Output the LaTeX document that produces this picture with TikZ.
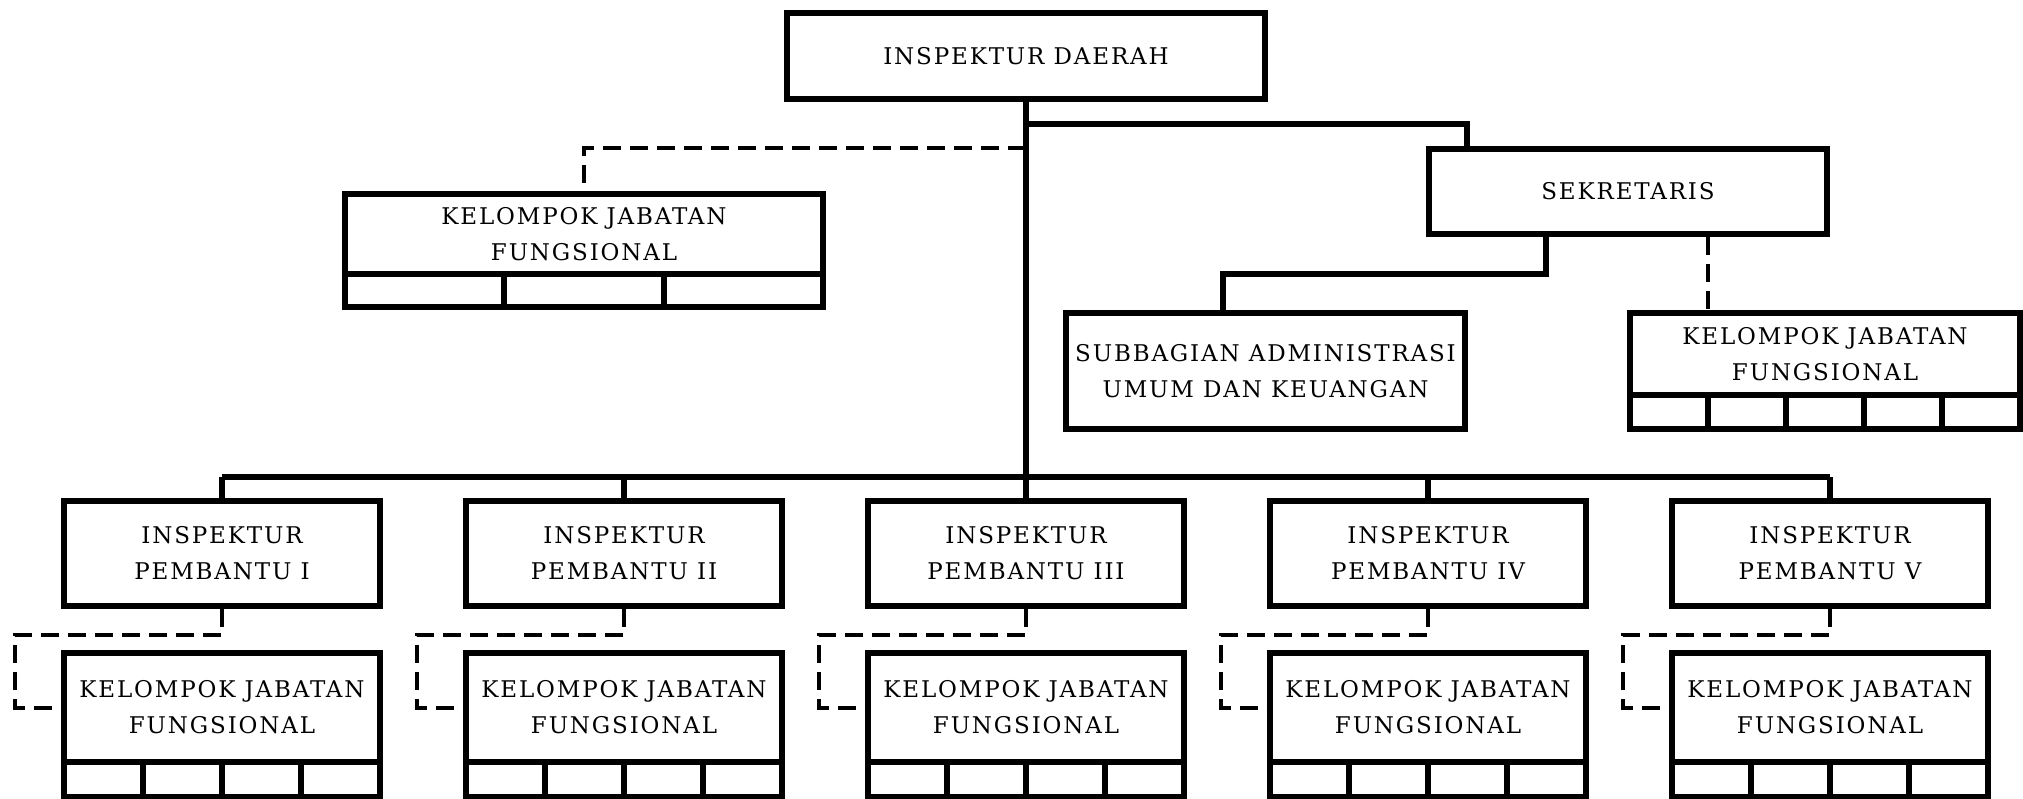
\documentclass[tikz,border=0pt]{standalone}
\usepackage{fontspec}
\setmainfont[LetterSpace=8]{DejaVu Serif}
\usetikzlibrary{calc}
\begin{document}
\begin{tikzpicture}[x=1pt,y=-1pt,
  box/.style={draw, line width=6pt, align=center, inner sep=0pt,
    font=\fontsize{23}{36}\selectfont},
  cell/.style={draw, line width=6pt, inner sep=0pt},
  conn/.style={line width=5.5pt},
  dconn/.style={line width=4pt, dash pattern=on 18pt off 9pt}]
\useasboundingbox[fill=white] (0,0) rectangle (2023,799);

% top level
\node[box, minimum width=478pt, minimum height=86pt] (id) at (1026,56) {INSPEKTUR DAERAH};
\node[box, minimum width=398pt, minimum height=85pt] (sek) at (1628,191.5) {SEKRETARIS};
\node[box, minimum width=399pt, minimum height=116pt] (sub) at (1265.5,371) {SUBBAGIAN ADMINISTRASI\\UMUM DAN KEUANGAN};

% KJF left
\node[box, minimum width=478pt, minimum height=80pt] (kl) at (584,234) {KELOMPOK JABATAN\\FUNGSIONAL};
\foreach \i/\x in {1/424.67,2/584,3/743.33}
  \node[cell, minimum width=159.33pt, minimum height=33pt] (kl-c\i) at (\x,290.5) {};

% KJF right
\node[box, minimum width=390pt, minimum height=82pt] (kr) at (1825,354) {KELOMPOK JABATAN\\FUNGSIONAL};
\foreach \i/\x in {1/1669,2/1747,3/1825,4/1903,5/1981}
  \node[cell, minimum width=78pt, minimum height=34pt] (kr-c\i) at (\x,412) {};

% inspektur pembantu + KJF
\foreach \i/\x/\r in {1/222/I,2/624/II,3/1026/III,4/1428/IV,5/1830/V}{
  \node[box, minimum width=316pt, minimum height=105pt] (ip\i) at (\x,553.5) {INSPEKTUR\\PEMBANTU \r};
  \node[box, minimum width=316pt, minimum height=109pt] (kb\i) at (\x,707.5) {KELOMPOK JABATAN\\FUNGSIONAL};
  \foreach \j/\dx in {1/-118.5,2/-39.5,3/39.5,4/118.5}
    \node[cell, minimum width=79pt, minimum height=35pt] (kb\i-c\j) at (\x+\dx,779.5) {};
}

% connectors
\coordinate (j1) at (1026,124);
\coordinate (j2) at (1026,148);
\coordinate (busL) at (222,477);
\coordinate (busR) at (1830,477);
\draw[conn] (id.south) -- (id.south |- busL);
\draw[conn] (j1) -| ($(sek.north)+(-161,0)$);
\draw[dconn] (j2) -| (kl.north);
\draw[conn] ($(sek.south)+(-82,0)$) -- ++(0,37) -| ($(sub.north)+(-42.5,0)$);
\draw[dconn] ($(sek.south)+(80,0)$) -- ($(kr.north)+(-117,0)$);
\draw[conn] (busL) -- (busR);
\foreach \i in {1,...,5}{
  \draw[conn] (ip\i.north) -- (ip\i.north |- busL);
  \draw[dconn] (ip\i.south) -- ++(0,26) -- ++(-207,0) |- (kb\i.west);
}
\end{tikzpicture}
\end{document}
